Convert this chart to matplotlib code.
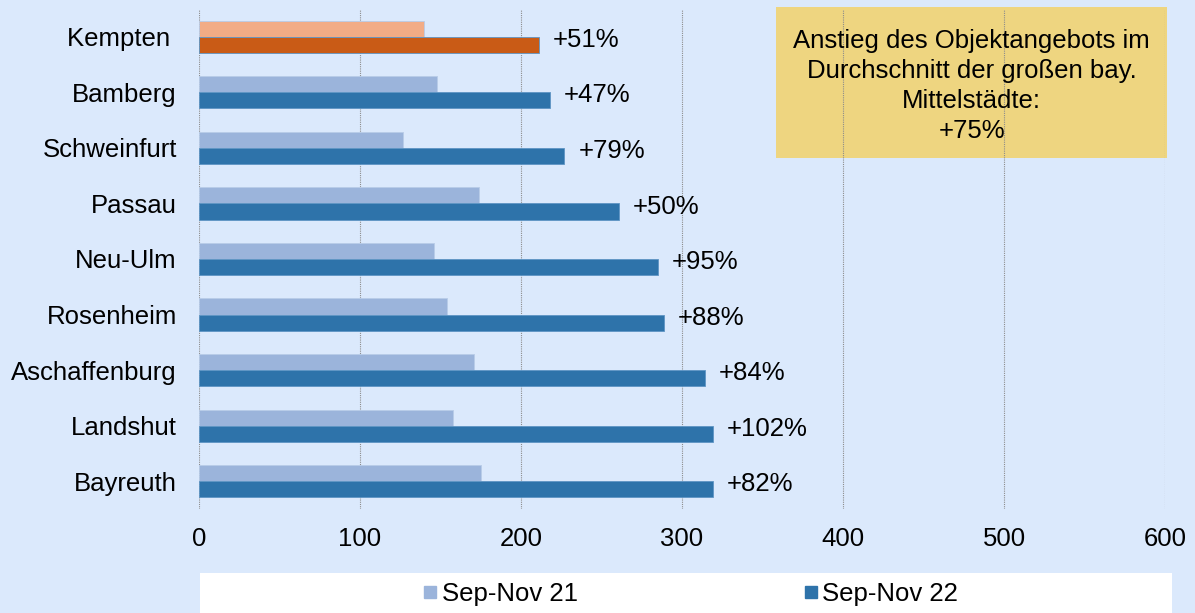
import matplotlib.pyplot as plt
from matplotlib.patches import Rectangle
from matplotlib.lines import Line2D

# data, bottom to top
cities = ['Bayreuth', 'Landshut', 'Aschaffenburg', 'Rosenheim', 'Neu-Ulm',
          'Passau', 'Schweinfurt', 'Bamberg', 'Kempten ']
sep_nov_21 = [175, 158, 171, 154, 146, 174, 127, 148, 140]
sep_nov_22 = [319, 319, 314, 289, 285, 261, 227, 218, 211]
changes = ['+82%', '+102%', '+84%', '+88%', '+95%', '+50%', '+79%', '+47%', '+51%']
xticks = [0, 100, 200, 300, 400, 500, 600]
note = 'Anstieg des Objektangebots im\nDurchschnitt der großen bay.\nMittelstädte:\n+75%'

BG = '#DBE9FC'
LIGHT_BLUE, DARK_BLUE = '#9BB4DB', '#2E73AA'
LIGHT_ORANGE, DARK_ORANGE = '#F2AC86', '#C95B16'
FS = 18.5

plt.rcParams['font.family'] = ['Liberation Sans', 'DejaVu Sans']

fig = plt.figure(figsize=(11.95, 6.13), dpi=100, facecolor=BG)
ax = fig.add_axes([199 / 1195, 1 - 509 / 613, 966 / 1195, 500 / 613])
ax.set_facecolor('none')

h = 0.29
y = list(range(len(cities)))
light_cols = [LIGHT_BLUE] * (len(cities) - 1) + [LIGHT_ORANGE]
dark_cols = [DARK_BLUE] * (len(cities) - 1) + [DARK_ORANGE]

ax.barh([v + h / 2 for v in y], sep_nov_21, height=h, color=light_cols,
        edgecolor='#B8CCE8', linewidth=0.6, zorder=2)
ax.barh([v - h / 2 for v in y], sep_nov_22, height=h, color=dark_cols,
        edgecolor='#5E95C4', linewidth=0.6, zorder=2)

for yi, val, txt in zip(y, sep_nov_22, changes):
    ax.annotate(txt, (val, yi - 0.055), xytext=(10, 0), textcoords='offset points',
                va='center', ha='left', fontsize=FS)

ax.set_xlim(0, 600)
ax.set_ylim(-0.5, len(cities) - 0.5)
ax.set_xticks(xticks)
ax.set_yticks(y)
ax.set_yticklabels(cities)
ax.tick_params(axis='both', length=0, labelsize=FS)
ax.tick_params(axis='y', pad=16)
ax.tick_params(axis='x', pad=13)
for s in ax.spines.values():
    s.set_visible(False)
ax.set_axisbelow(True)
ax.grid(axis='x', color='#8C8C8C', linestyle=(0, (1, 1)), linewidth=0.8)

# note box
ax.add_patch(Rectangle((0.597, 0.702), 0.405, 0.302, transform=ax.transAxes,
                       facecolor='#EED580', edgecolor='none', clip_on=False, zorder=0.2))
ax.text(0.800, 0.846, note, transform=ax.transAxes, ha='center', va='center',
        fontsize=FS, linespacing=1.3, zorder=3)

# legend strip
fig.patches.append(Rectangle((200 / 1195, 0), 972 / 1195, 40 / 613,
                             transform=fig.transFigure, facecolor='white',
                             edgecolor='none', zorder=-1))
handles = [Line2D([], [], marker='s', linestyle='none', markersize=8.6,
                  color=LIGHT_BLUE),
           Line2D([], [], marker='s', linestyle='none', markersize=8.6,
                  color=DARK_BLUE)]
fig.legend(handles, ['Sep-Nov 21', 'Sep-Nov 22'], loc='center',
           bbox_to_anchor=(691 / 1195, 1 - 594 / 613), ncol=2, frameon=False,
           fontsize=FS, handlelength=0.5, handletextpad=0.2, columnspacing=8.8,
           borderpad=0, borderaxespad=0)

fig.savefig('out.png', dpi=100, facecolor=BG)
